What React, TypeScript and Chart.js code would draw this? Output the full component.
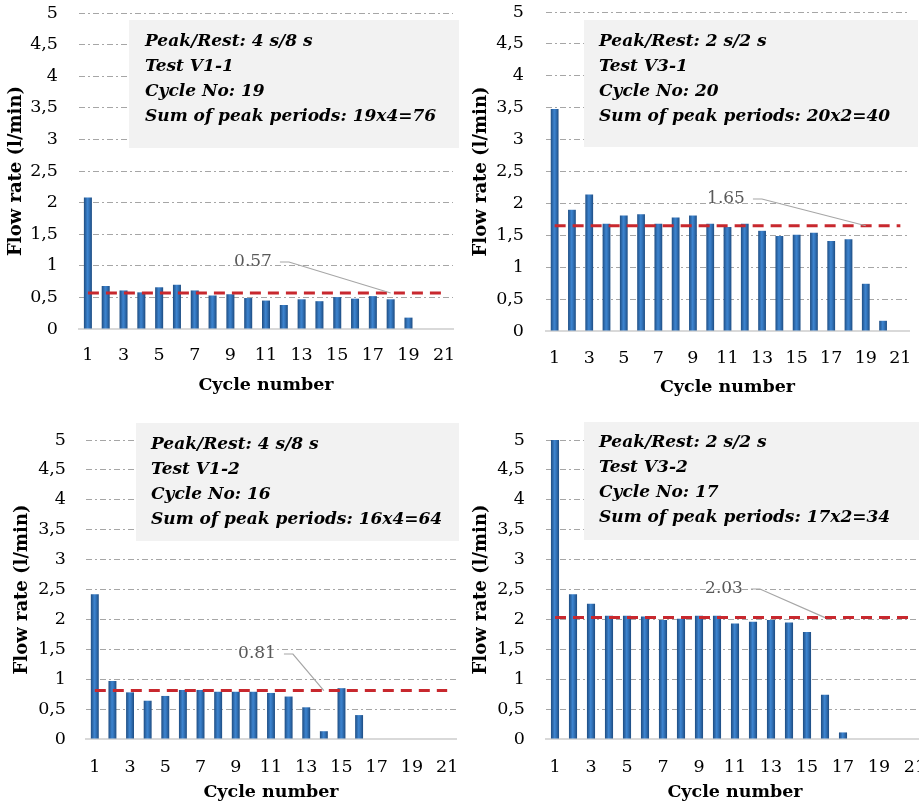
import React, { useEffect, useRef } from 'react';
import { Chart, registerables } from 'chart.js';

Chart.register(...registerables);

// ---------- data ----------
const cycleLabels = ['1', '2', '3', '4', '5', '6', '7', '8', '9', '10', '11', '12', '13', '14', '15', '16', '17', '18', '19', '20', '21'];

const flowV11 = [2.08, 0.68, 0.61, 0.58, 0.66, 0.7, 0.61, 0.53, 0.55, 0.49, 0.45, 0.38, 0.47, 0.44, 0.505, 0.48, 0.52, 0.47, 0.18];
const flowV31 = [3.48, 1.9, 2.14, 1.68, 1.81, 1.83, 1.68, 1.78, 1.81, 1.68, 1.63, 1.68, 1.57, 1.49, 1.51, 1.54, 1.41, 1.44, 0.74, 0.16];
const flowV12 = [2.42, 0.97, 0.78, 0.64, 0.72, 0.82, 0.82, 0.79, 0.79, 0.79, 0.77, 0.71, 0.53, 0.13, 0.85, 0.4];
const flowV32 = [5.0, 2.42, 2.26, 2.06, 2.06, 2.05, 1.99, 2.01, 2.06, 2.06, 1.93, 1.96, 1.99, 1.95, 1.79, 0.74, 0.11];

const meanV11 = 0.57;
const meanV31 = 1.65;
const meanV12 = 0.81;
const meanV32 = 2.03;

const infoV11 = ['Peak/Rest: 4 s/8 s', 'Test V1-1', 'Cycle No: 19', 'Sum of peak periods: 19x4=76'];
const infoV31 = ['Peak/Rest: 2 s/2 s', 'Test V3-1', 'Cycle No: 20', 'Sum of peak periods: 20x2=40'];
const infoV12 = ['Peak/Rest: 4 s/8 s', 'Test V1-2', 'Cycle No: 16', 'Sum of peak periods: 16x4=64'];
const infoV32 = ['Peak/Rest: 2 s/2 s', 'Test V3-2', 'Cycle No: 17', 'Sum of peak periods: 17x2=34'];

const yAxisTitle = 'Flow rate (l/min)';
const xAxisTitle = 'Cycle number';

// ---------- styling / layout ----------
const FONT = '"DejaVu Serif", serif';
const TICK_SIZE = 17.5;
const YTITLE_SIZE = 18;
const XTITLE_SIZE = 17.5;
const BOX_SIZE = 17;

type Spec = {
  left: number; top: number; w: number; h: number; clipW: number;
  area: { left: number; right: number; top: number; bottom: number };
  tickPad: number; yTitleC: number; xTickC: number; xTitleC: number;
  box: { x: number; y: number; w: number; h: number };
  text: { x: number; y0: number; dy: number };
  label: { idx: number; cx: number; cy: number };
  values: number[]; mean: number; info: string[];
};

const panels: Spec[] = [
  {
    left: 0, top: 0, w: 459, h: 400, clipW: 459,
    area: { left: 79, right: 453, top: 13, bottom: 329 },
    tickPad: 21, yTitleC: 16.5, xTickC: 355, xTitleC: 385,
    box: { x: 129, y: 20, w: 331, h: 128 },
    text: { x: 145, y0: 42, dy: 25 },
    label: { idx: 17, cx: 253, cy: 262 },
    values: flowV11, mean: meanV11, info: infoV11,
  },
  {
    left: 459, top: 0, w: 460, h: 400, clipW: 460,
    area: { left: 87, right: 450, top: 12, bottom: 331 },
    tickPad: 22, yTitleC: 22.5, xTickC: 358, xTitleC: 387,
    box: { x: 125, y: 20, w: 334, h: 127 },
    text: { x: 140, y0: 42, dy: 25 },
    label: { idx: 18, cx: 267, cy: 199 },
    values: flowV31, mean: meanV31, info: infoV31,
  },
  {
    left: 0, top: 400, w: 459, h: 408, clipW: 459,
    area: { left: 86, right: 456, top: 40, bottom: 339 },
    tickPad: 20, yTitleC: 22.5, xTickC: 367, xTitleC: 392,
    box: { x: 136, y: 23, w: 324, h: 118 },
    text: { x: 151, y0: 45, dy: 25 },
    label: { idx: 13, cx: 257, cy: 254 },
    values: flowV12, mean: meanV12, info: infoV12,
  },
  {
    left: 459, top: 400, w: 480, h: 408, clipW: 460,
    area: { left: 87, right: 465, top: 40, bottom: 339 },
    tickPad: 21, yTitleC: 22.5, xTickC: 367, xTitleC: 392,
    box: { x: 125, y: 22, w: 400, h: 118 },
    text: { x: 140, y0: 43, dy: 25 },
    label: { idx: 15, cx: 265, cy: 189 },
    values: flowV32, mean: meanV32, info: infoV32,
  },
];

function buildChart(canvas: HTMLCanvasElement, s: Spec) {
  const meanLine = cycleLabels.map(() => s.mean);
  const overlay = {
    id: 'overlay',
    beforeDatasetsDraw(chart: any) {
      const c = chart.ctx;
      c.save();
      c.fillStyle = '#f2f2f2';
      c.fillRect(s.box.x, s.box.y, s.box.w, s.box.h);
      c.fillStyle = '#000';
      c.font = `italic bold ${BOX_SIZE}px ${FONT}`;
      c.textBaseline = 'middle';
      c.textAlign = 'left';
      s.info.forEach((t, i) => c.fillText(t, s.text.x, s.text.y0 + i * s.text.dy));
      c.restore();
    },
    afterDatasetsDraw(chart: any) {
      const c = chart.ctx;
      const pt = chart.getDatasetMeta(0).data[s.label.idx];
      if (!pt) return;
      c.save();
      c.font = `17px ${FONT}`;
      c.fillStyle = '#595959';
      c.textAlign = 'center';
      c.textBaseline = 'middle';
      const txt = s.mean.toFixed(2);
      c.fillText(txt, s.label.cx, s.label.cy);
      const right = s.label.cx + c.measureText(txt).width / 2;
      c.strokeStyle = '#a6a6a6';
      c.lineWidth = 1.2;
      c.beginPath();
      c.moveTo(right + 8, s.label.cy);
      c.lineTo(right + 17, s.label.cy);
      c.lineTo(pt.x, pt.y);
      c.stroke();
      c.restore();
    },
  };

  return new Chart(canvas, {
    type: 'bar',
    data: {
      labels: cycleLabels,
      datasets: [
        {
          type: 'line',
          label: 'mean',
          data: meanLine,
          borderColor: '#c8282e',
          borderWidth: 3,
          borderDash: [11, 7],
          pointRadius: 0,
          fill: false,
          order: 0,
        } as any,
        {
          type: 'bar',
          label: 'flow',
          data: s.values,
          order: 1,
          barPercentage: 0.9,
          categoryPercentage: 0.5,
          borderWidth: 0,
          backgroundColor: (ctx: any) => {
            const chart = ctx.chart;
            const xs = chart.scales && chart.scales.x;
            if (!xs || ctx.type !== 'data') return '#2e6db4';
            try {
              const cx = xs.getPixelForValue(ctx.dataIndex);
              const g = chart.ctx.createLinearGradient(cx - 4.5, 0, cx + 4.5, 0);
              g.addColorStop(0, '#1a4577');
              g.addColorStop(0.45, '#3d84cf');
              g.addColorStop(0.6, '#3578c0');
              g.addColorStop(1, '#1a4577');
              return g;
            } catch (e) {
              return '#2e6db4';
            }
          },
        } as any,
      ],
    },
    options: {
      responsive: false,
      animation: false,
      devicePixelRatio: 1,
      layout: { padding: { left: 0, top: s.area.top, right: s.w - s.area.right, bottom: 0 } },
      plugins: { legend: { display: false }, tooltip: { enabled: false } },
      scales: {
        x: {
          type: 'category',
          offset: true,
          grid: { display: false, drawTicks: false },
          border: { display: true, color: '#d9d9d9', width: 2 },
          ticks: {
            autoSkip: false,
            maxRotation: 0,
            padding: s.xTickC - s.area.bottom - (TICK_SIZE * 1.2) / 2,
            color: '#000',
            font: { family: FONT, size: TICK_SIZE },
            callback: (_v: any, i: number) => (i % 2 === 0 ? cycleLabels[i] : ''),
          },
          title: {
            display: true,
            text: xAxisTitle,
            color: '#000',
            font: { family: FONT, size: XTITLE_SIZE, weight: 'bold' },
            padding: { top: 0, bottom: s.h - s.xTitleC - (XTITLE_SIZE * 1.2) / 2 },
          },
          afterFit: (sc: any) => {
            sc.height = s.h - s.area.bottom;
            sc.paddingLeft = 0;
            sc.paddingRight = 0;
          },
        },
        y: {
          min: 0,
          max: 5,
          grid: {
            drawTicks: false,
            lineWidth: 1,
            color: (ctx: any) => (ctx.tick && ctx.tick.value === 0 ? 'rgba(0,0,0,0)' : '#a6a6a6'),
          },
          border: { display: false, dash: [6, 3, 2, 3] },
          ticks: {
            stepSize: 0.5,
            padding: s.tickPad,
            color: '#000',
            font: { family: FONT, size: TICK_SIZE },
            callback: (v: any) => String(v).replace('.', ','),
          },
          title: {
            display: true,
            text: yAxisTitle,
            color: '#000',
            font: { family: FONT, size: YTITLE_SIZE, weight: 'bold' },
            padding: { top: s.yTitleC - (YTITLE_SIZE * 1.2) / 2, bottom: 0 },
          },
          afterFit: (sc: any) => {
            sc.width = s.area.left;
            sc.paddingTop = 0;
            sc.paddingBottom = 0;
          },
        },
      },
    },
    plugins: [overlay as any],
  } as any);
}

function Panel({ spec }: { spec: Spec }) {
  const ref = useRef<HTMLCanvasElement | null>(null);
  useEffect(() => {
    if (!ref.current) return;
    const chart = buildChart(ref.current, spec);
    return () => chart.destroy();
  }, [spec]);
  return (
    <div
      style={{
        position: 'absolute',
        left: spec.left,
        top: spec.top,
        width: spec.clipW,
        height: spec.h,
        overflow: 'hidden',
      }}
    >
      <canvas ref={ref} width={spec.w} height={spec.h} style={{ width: spec.w, height: spec.h, display: 'block' }} />
    </div>
  );
}

export default function App() {
  return (
    <div
      style={{
        position: 'absolute',
        left: 0,
        top: 0,
        width: 919,
        height: 808,
        overflow: 'hidden',
        background: '#fff',
      }}
    >
      {panels.map((p, i) => (
        <Panel key={i} spec={p} />
      ))}
    </div>
  );
}
